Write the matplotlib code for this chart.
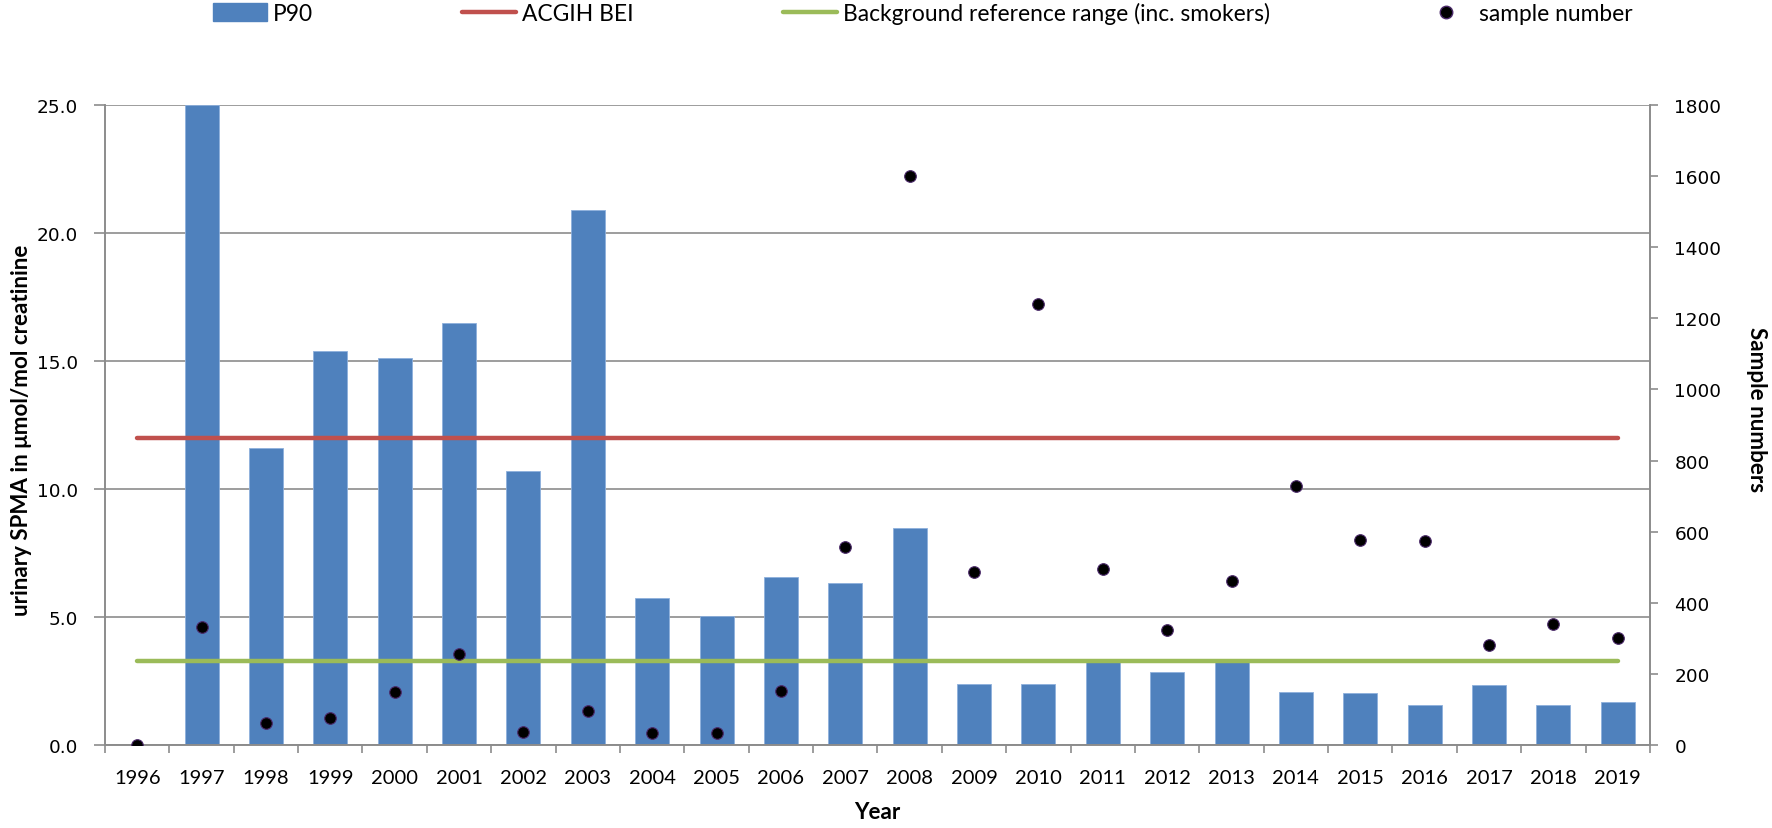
import numpy as np
import matplotlib.pyplot as plt
from matplotlib.lines import Line2D
from matplotlib.patches import Patch

# 数据
years = ['1996', '1997', '1998', '1999', '2000', '2001', '2002', '2003',
         '2004', '2005', '2006', '2007', '2008', '2009', '2010', '2011',
         '2012', '2013', '2014', '2015', '2016', '2017', '2018', '2019']
p90 = [0, 25.0, 11.6, 15.4, 15.1, 16.5, 10.7, 20.9, 5.75, 5.05, 6.55, 6.32,
       8.48, 2.37, 2.37, 3.25, 2.87, 3.25, 2.08, 2.04, 1.56, 2.34, 1.56, 1.69]
samples = [0, 332, 62, 77, 149, 256, 37, 95, 33, 33, 153, 557,
           1600, 487, 1240, 495, 324, 460, 728, 577, 574, 281, 341, 301]
bei_value = 12.0
background_value = 3.3

blue = '#4F81BD'
red = '#C0504D'
green = '#9BBB59'
grey = '#8C8C8C'
W, H = 1772, 829

plt.rcParams['font.family'] = ['Lato', 'DejaVu Sans']

fig = plt.figure(figsize=(W / 100, H / 100), dpi=100)
ax = fig.add_axes([105 / W, 1 - 746 / H, 1545 / W, 640 / H])
ax2 = ax.twinx()

x = np.arange(len(years))

# 柱状图 + 参考线
ax.bar(x, p90, width=0.53, color=blue, edgecolor='#8db0dc', linewidth=0.6, zorder=2)
ax.plot(x, np.full(len(x), bei_value), color=red, lw=3.2, solid_capstyle='round', zorder=3)
ax.plot(x, np.full(len(x), background_value), color=green, lw=3.2, solid_capstyle='round', zorder=3)

# 样本数量散点 (右轴)
ax2.scatter(x, samples, s=70, color='black', edgecolors='#4b2a6a', linewidths=0.8, zorder=4)

# 左轴
ax.set_xlim(-0.5, len(years) - 0.5)
ax.set_ylim(0, 25)
ax.set_yticks([0, 5, 10, 15, 20, 25])
ax.set_yticklabels([f'{v:.1f}' for v in [0, 5, 10, 15, 20, 25]],
                   family='DejaVu Sans', fontsize=13.3)
ax.yaxis.grid(True, color=grey, lw=1.2)
ax.set_axisbelow(True)
ax.tick_params(axis='y', length=8, width=1.2, color=grey, pad=11.5)

# x 轴: 刻度在分类边界, 标签在中间
ax.set_xticks(np.arange(len(years) + 1) - 0.5)
ax.set_xticklabels([])
ax.set_xticks(x, minor=True)
ax.set_xticklabels(years, minor=True, fontsize=14.5)
ax.tick_params(axis='x', which='major', length=6, width=1.2, color=grey)
ax.tick_params(axis='x', which='minor', length=0, pad=17)

# 右轴
ax2.set_ylim(0, 1800)
ax2.set_yticks(range(0, 1801, 200))
ax2.set_yticklabels([str(v) for v in range(0, 1801, 200)],
                    family='DejaVu Sans', fontsize=13.3)
ax2.tick_params(axis='y', length=6, width=1.2, color=grey, pad=11.5)

for a in (ax, ax2):
    a.spines['top'].set_visible(False)
    for s in ('left', 'right', 'bottom'):
        a.spines[s].set_color(grey)
        a.spines[s].set_linewidth(1.2)

# 轴标题
ylab = fig.text(22 / W, 1 - 430 / H, 'urinary SPMA in \u03bcmol/mol creatinine',
                rotation=90, ha='center', va='center', fontsize=15, fontweight='bold')
ylab2 = fig.text(1756 / W, 1 - 410 / H, 'Sample numbers', rotation=270,
                 ha='center', va='center', fontsize=15, fontweight='bold')
xlab = fig.text(877 / W, 1 - 813 / H, 'Year', ha='center', va='center',
                fontsize=15, fontweight='bold')

fig.canvas.draw()
r = fig.canvas.get_renderer()
lab_size = 15 * 372 / ylab.get_window_extent(r).height
for t in (ylab, ylab2, xlab):
    t.set_fontsize(lab_size)

# 图例
handles = [
    Patch(facecolor=blue, edgecolor=blue),
    Line2D([], [], color=red, lw=3.2, solid_capstyle='round'),
    Line2D([], [], color=green, lw=3.2, solid_capstyle='round'),
    Line2D([], [], color='black', marker='o', ls='none', markersize=9,
           markeredgecolor='#4b2a6a'),
]
labels = ['P90', 'ACGIH BEI', 'Background reference range (inc. smokers)', 'sample number']
leg_left, leg_width = 213, 1420


def make_legend(size, spacing):
    px = size * 100 / 72
    return fig.legend(handles, labels, loc='center left',
                      bbox_to_anchor=(leg_left / W, 1 - 14 / H), ncol=4, frameon=False,
                      fontsize=size, handlelength=54 / px, handletextpad=6 / px,
                      columnspacing=spacing, handleheight=0.8, borderpad=0,
                      borderaxespad=0)


leg = make_legend(15, 0)
fig.canvas.draw()
leg_size = 15 * 425 / leg.get_texts()[2].get_window_extent(r).width
leg.remove()
leg = make_legend(leg_size, 0)
fig.canvas.draw()
w0 = leg.get_window_extent(r).width
leg.remove()
gap = (leg_width - w0) / 3
make_legend(leg_size, gap / (leg_size * 100 / 72))

fig.savefig('out.png', dpi=100)
